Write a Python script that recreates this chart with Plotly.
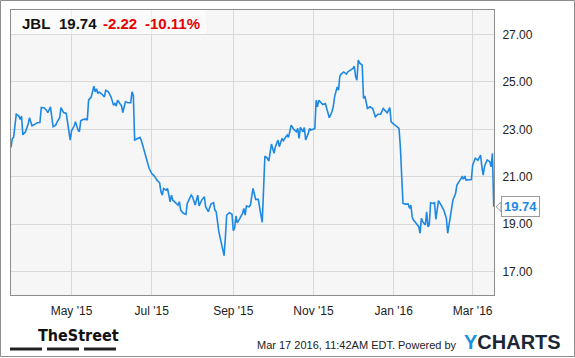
import plotly.graph_objects as go

# ---- data (JBL daily close, approx.) ----
dates = [
 "2015-03-16","2015-03-17","2015-03-18","2015-03-20","2015-03-22","2015-03-23","2015-03-24","2015-03-25",
 "2015-03-27","2015-03-29","2015-03-30","2015-04-01","2015-04-03","2015-04-05","2015-04-07","2015-04-08",
 "2015-04-10","2015-04-12","2015-04-13","2015-04-15","2015-04-17","2015-04-19","2015-04-20","2015-04-22",
 "2015-04-23","2015-04-25","2015-04-27","2015-04-28","2015-04-29","2015-04-30",
 "2015-05-01","2015-05-03","2015-05-04","2015-05-06","2015-05-07","2015-05-08","2015-05-10","2015-05-12",
 "2015-05-13","2015-05-14","2015-05-16","2015-05-18","2015-05-19","2015-05-20","2015-05-21","2015-05-22",
 "2015-05-24","2015-05-26","2015-05-27","2015-05-29","2015-05-31",
 "2015-06-02","2015-06-03","2015-06-04","2015-06-05","2015-06-07","2015-06-08","2015-06-09","2015-06-11",
 "2015-06-13","2015-06-15","2015-06-16","2015-06-17","2015-06-18","2015-06-20","2015-06-22","2015-06-23",
 "2015-06-25","2015-06-26","2015-06-27","2015-06-29",
 "2015-07-01","2015-07-03","2015-07-05","2015-07-07","2015-07-08","2015-07-09","2015-07-10","2015-07-12",
 "2015-07-13","2015-07-15","2015-07-16","2015-07-17","2015-07-19","2015-07-21","2015-07-22","2015-07-23",
 "2015-07-25","2015-07-27","2015-07-28","2015-07-31",
 "2015-08-01","2015-08-03","2015-08-05","2015-08-06","2015-08-08","2015-08-10","2015-08-11","2015-08-13",
 "2015-08-15","2015-08-17","2015-08-18","2015-08-19","2015-08-21","2015-08-23","2015-08-25","2015-08-26",
 "2015-08-27","2015-08-29","2015-08-31",
 "2015-09-01","2015-09-02","2015-09-03","2015-09-04","2015-09-06","2015-09-08","2015-09-09","2015-09-10",
 "2015-09-11","2015-09-13","2015-09-14","2015-09-16","2015-09-18","2015-09-20","2015-09-22","2015-09-23",
 "2015-09-24","2015-09-25","2015-09-27","2015-09-28","2015-09-30",
 "2015-10-02","2015-10-03","2015-10-05","2015-10-06","2015-10-08","2015-10-09","2015-10-11","2015-10-12",
 "2015-10-13","2015-10-15","2015-10-17","2015-10-19","2015-10-20","2015-10-21","2015-10-22","2015-10-24",
 "2015-10-25","2015-10-26","2015-10-28","2015-10-29","2015-10-30","2015-10-31",
 "2015-11-02","2015-11-03","2015-11-04","2015-11-05","2015-11-06","2015-11-08","2015-11-10","2015-11-11",
 "2015-11-13","2015-11-15","2015-11-16","2015-11-17","2015-11-19","2015-11-20","2015-11-21","2015-11-22",
 "2015-11-24","2015-11-26","2015-11-27","2015-11-29",
 "2015-12-01","2015-12-02","2015-12-03","2015-12-04","2015-12-05","2015-12-06","2015-12-08","2015-12-09",
 "2015-12-10","2015-12-12","2015-12-14","2015-12-16","2015-12-18","2015-12-20","2015-12-22","2015-12-24",
 "2015-12-25","2015-12-27","2015-12-29","2015-12-30",
 "2016-01-01","2016-01-03","2016-01-05","2016-01-06","2016-01-07","2016-01-08","2016-01-10","2016-01-12",
 "2016-01-13","2016-01-14","2016-01-15","2016-01-16","2016-01-18","2016-01-20","2016-01-21","2016-01-22",
 "2016-01-23","2016-01-25","2016-01-26","2016-01-27","2016-01-28","2016-01-29","2016-01-31",
 "2016-02-01","2016-02-02","2016-02-04","2016-02-06","2016-02-08","2016-02-10","2016-02-11","2016-02-13",
 "2016-02-15","2016-02-17","2016-02-18","2016-02-20","2016-02-22","2016-02-23","2016-02-24","2016-02-25",
 "2016-02-29",
 "2016-03-01","2016-03-03","2016-03-05","2016-03-07","2016-03-08","2016-03-09","2016-03-10","2016-03-12",
 "2016-03-14","2016-03-15","2016-03-16","2016-03-17",
]
prices = [
 22.24,22.62,22.66,23.64,23.56,23.42,23.56,22.77,
 22.90,23.21,23.49,23.15,23.21,23.28,23.29,23.92,
 23.91,23.81,23.70,23.95,23.11,23.18,23.31,23.49,
 23.92,23.71,23.67,23.32,22.97,22.55,
 22.94,23.14,23.32,22.97,22.90,23.36,23.42,23.43,
 23.39,24.23,24.37,24.82,24.58,24.71,24.51,24.57,
 24.49,24.37,24.65,24.58,24.37,
 24.02,24.09,23.98,24.23,24.09,23.99,23.71,24.16,
 24.12,24.12,24.58,24.44,22.55,22.62,22.66,22.55,
 22.13,21.99,21.71,21.36,
 21.14,21.03,20.86,20.75,20.37,20.23,20.51,20.44,
 20.51,19.95,20.23,20.02,19.91,19.81,19.95,19.60,
 19.46,19.42,19.88,20.23,
 20.16,19.81,20.23,19.77,20.02,20.16,19.74,19.53,
 19.85,19.91,19.60,19.53,18.69,18.20,17.68,18.47,
 19.39,19.49,19.42,
 18.73,18.83,19.35,19.06,19.25,19.46,19.67,19.39,
 19.77,19.74,19.81,20.51,20.05,20.05,19.39,19.08,
 20.44,21.87,21.78,21.66,22.38,
 21.99,22.27,22.55,22.27,22.62,22.52,22.66,22.76,
 22.66,23.18,23.00,22.90,23.04,22.62,23.08,22.90,
 23.08,22.55,22.83,23.04,22.97,23.00,
 23.04,24.23,23.95,24.23,24.16,24.05,24.09,23.88,
 23.49,23.74,23.95,24.37,24.79,24.65,25.24,25.33,
 25.42,25.33,25.42,25.50,
 25.57,25.66,25.21,25.07,25.92,25.80,25.71,24.30,
 24.41,23.88,23.95,23.88,23.53,23.64,23.64,23.88,
 23.81,23.70,23.92,23.32,
 23.22,23.14,23.04,22.27,21.14,19.88,19.85,19.85,
 19.67,19.81,19.32,19.18,19.04,18.90,18.62,19.25,
 19.11,18.97,19.53,18.90,18.97,19.91,19.88,
 19.91,19.21,20.00,19.81,19.60,19.25,18.62,19.32,
 20.02,20.30,20.65,20.83,21.00,20.90,21.03,20.86,
 20.89,
 21.49,21.78,21.70,21.92,21.42,21.07,21.45,21.71,
 21.64,21.42,21.99,19.74,
]

ticker = "JBL"
last_price = "19.74"
change = "-2.22"
change_pct = "-10.11%"
y_ticks = [17, 19, 21, 23, 25, 27]
timestamp = "Mar 17 2016, 11:42AM EDT. Powered by"

FONT = "Liberation Sans, Arial, sans-serif"
BLUE = "#1e88e5"
RED = "#e60000"

# plot area in pixels: left 11, right 494, top 10, bottom 295
L, R, T, B = 11, 494, 10, 295
W, H = 575, 358
def px(x):
    return (x - L) / (R - L)
def py(y):
    return (B - y) / (B - T)

fig = go.Figure()
fig.add_trace(go.Scatter(
    x=dates, y=prices, mode="lines",
    line=dict(color=BLUE, width=1.6),
    hoverinfo="x+y", showlegend=False,
))

shapes = []
# outer frame
shapes.append(dict(type="rect", xref="paper", yref="paper",
                   x0=px(0.5), x1=px(574.5), y0=py(356.5), y1=py(0.5),
                   line=dict(color="#8c8c8c", width=1), fillcolor="rgba(0,0,0,0)", layer="above"))
# header box
shapes.append(dict(type="rect", xref="paper", yref="paper",
                   x0=0, x1=px(206), y0=py(34), y1=1,
                   line=dict(width=0), fillcolor="rgba(255,255,255,0.55)", layer="above"))
# TheStreet bars
for a, b in [(10, 42), (47, 79), (84, 116)]:
    shapes.append(dict(type="rect", xref="paper", yref="paper",
                       x0=px(a), x1=px(b), y0=py(350.5), y1=py(347.5),
                       line=dict(width=0), fillcolor="#222222", layer="above"))
# pointer notch of the last-value tag
last_val = prices[-1]
shapes.append(dict(type="path", xref="paper", yref="y",
                   path="M %f,%f L %f,%f L %f,%f Z" % (
                       px(501), last_val + 0.2, px(496), last_val, px(501), last_val - 0.2),
                   line=dict(color="#9a9a9a", width=1), fillcolor="white", layer="above"))

annotations = []
hy = py(23)
for txt, xpos, col in [(ticker, 20, "#111111"), (last_price, 57, "#111111"),
                       (change, 101, RED), (change_pct, 143, RED)]:
    annotations.append(dict(xref="paper", yref="paper", x=px(xpos), y=hy,
                            xanchor="left", yanchor="middle", showarrow=False,
                            text="<b>%s</b>" % txt,
                            font=dict(family=FONT, size=15, color=col)))
# last value tag
annotations.append(dict(xref="paper", yref="y", x=1, y=last_val,
                        xanchor="left", yanchor="middle", xshift=7, showarrow=False,
                        text="<b>%s</b>" % last_price,
                        font=dict(family=FONT, size=13, color=BLUE),
                        bgcolor="white", bordercolor="#9a9a9a", borderwidth=1, borderpad=2))
# footer
annotations.append(dict(xref="paper", yref="paper", x=px(36), y=py(335),
                        xanchor="left", yanchor="middle", showarrow=False,
                        text="<b>TheStreet</b>",
                        font=dict(family="Liberation Sans Narrow, DejaVu Sans Condensed, sans-serif",
                                  size=16, color="#111111")))
annotations.append(dict(xref="paper", yref="paper", x=px(459), y=py(345),
                        xanchor="right", yanchor="middle", showarrow=False,
                        text=timestamp,
                        font=dict(family=FONT, size=11, color="#222222")))
annotations.append(dict(xref="paper", yref="paper", x=px(462), y=py(342),
                        xanchor="left", yanchor="middle", showarrow=False,
                        text="<b><span style='color:%s'>Y</span>CHARTS</b>" % "#1a8fe0",
                        font=dict(family=FONT, size=20, color="#1b2733")))

fig.update_layout(
    width=W, height=H,
    margin=dict(l=L, r=W - R, t=T, b=H - B, pad=0),
    paper_bgcolor="white", plot_bgcolor="#f6f6f6",
    font=dict(family=FONT, size=12, color="#333333"),
    shapes=shapes, annotations=annotations,
    showlegend=False,
)
fig.update_xaxes(
    type="date", range=["2015-03-16", "2016-03-17 05:00"],
    tick0="2015-05-01", dtick="M2", tickformat="%b '%y",
    showgrid=True, gridcolor="#d9d9d9", gridwidth=1,
    showline=True, linecolor="#8c8c8c", linewidth=1, mirror=True,
    ticks="", ticklabelstandoff=5, zeroline=False,
    tickfont=dict(family=FONT, size=12, color="#222222"),
)
fig.update_yaxes(
    side="right", range=[16.02, 28.03], tickvals=y_ticks, tickformat=".2f",
    showgrid=True, gridcolor="#d9d9d9", gridwidth=1,
    showline=True, linecolor="#8c8c8c", linewidth=1, mirror=True,
    ticks="", ticklabelstandoff=5, zeroline=False,
    tickfont=dict(family=FONT, size=12, color="#222222"),
)

fig.write_html("out.html")
